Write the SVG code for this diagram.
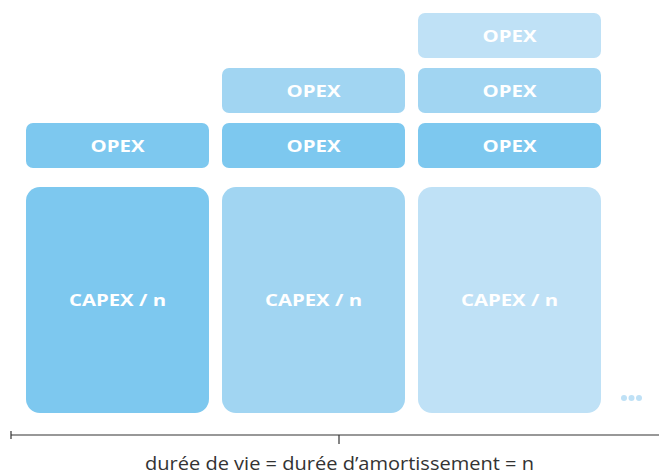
<svg xmlns="http://www.w3.org/2000/svg" width="659" height="474" viewBox="0 0 659 474">
<style>
.c1{fill:#7dc8ef}.c2{fill:#a1d5f2}.c3{fill:#bfe1f6}
.lbl{font-family:"Open Sans","Liberation Sans",sans-serif;font-weight:700;font-size:16.5px;fill:#ffffff;text-anchor:middle;dominant-baseline:central}
.axis{stroke:#333333;stroke-width:1.2;fill:none}
.cap{font-family:"Open Sans","Liberation Sans",sans-serif;font-size:18px;fill:#333333;text-anchor:middle}
</style>
<rect width="659" height="474" fill="#ffffff"/>
<g id="capex1"><rect class="c1" x="26" y="187" width="183" height="226" rx="14"/><text class="lbl" x="117.5" y="299" textLength="97" lengthAdjust="spacingAndGlyphs">CAPEX / n</text></g>
<g id="capex2"><rect class="c2" x="222" y="187" width="183" height="226" rx="14"/><text class="lbl" x="313.5" y="299" textLength="97" lengthAdjust="spacingAndGlyphs">CAPEX / n</text></g>
<g id="capex3"><rect class="c3" x="418" y="187" width="183" height="226" rx="14"/><text class="lbl" x="509.5" y="299" textLength="97" lengthAdjust="spacingAndGlyphs">CAPEX / n</text></g>
<g id="opex1a"><rect class="c1" x="26" y="123" width="183" height="45" rx="7"/><text class="lbl" x="117.5" y="145" textLength="54" lengthAdjust="spacingAndGlyphs">OPEX</text></g>
<g id="opex2a"><rect class="c1" x="222" y="123" width="183" height="45" rx="7"/><text class="lbl" x="313.5" y="145" textLength="54" lengthAdjust="spacingAndGlyphs">OPEX</text></g>
<g id="opex3a"><rect class="c1" x="418" y="123" width="183" height="45" rx="7"/><text class="lbl" x="509.5" y="145" textLength="54" lengthAdjust="spacingAndGlyphs">OPEX</text></g>
<g id="opex2b"><rect class="c2" x="222" y="68" width="183" height="45" rx="7"/><text class="lbl" x="313.5" y="90" textLength="54" lengthAdjust="spacingAndGlyphs">OPEX</text></g>
<g id="opex3b"><rect class="c2" x="418" y="68" width="183" height="45" rx="7"/><text class="lbl" x="509.5" y="90" textLength="54" lengthAdjust="spacingAndGlyphs">OPEX</text></g>
<g id="opex3c"><rect class="c3" x="418" y="13" width="183" height="45" rx="7"/><text class="lbl" x="509.5" y="35" textLength="54" lengthAdjust="spacingAndGlyphs">OPEX</text></g>
<g id="dots" class="c3"><circle cx="624" cy="398" r="3"/><circle cx="631.5" cy="398" r="3"/><circle cx="639" cy="398" r="3"/></g>
<g id="connectors">
<line class="axis" x1="11" y1="435" x2="659" y2="435"/>
<line class="axis" x1="11" y1="431" x2="11" y2="439"/>
<line class="axis" x1="339" y1="435" x2="339" y2="444"/>
</g>
<text class="cap" x="339.5" y="470" textLength="389" lengthAdjust="spacingAndGlyphs">durée de vie = durée d’amortissement = n</text>
</svg>
